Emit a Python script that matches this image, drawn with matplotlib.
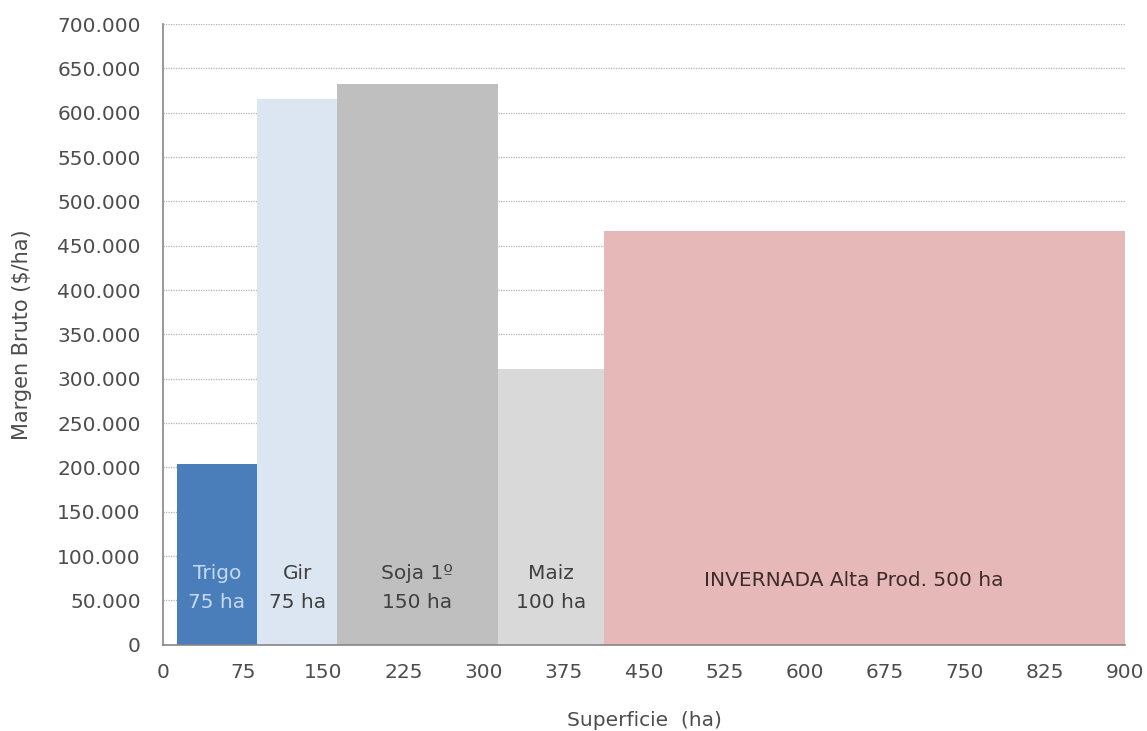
import matplotlib.pyplot as plt
from matplotlib.ticker import FuncFormatter

plt.rcParams['font.family'] = ['DejaVu Sans']

# data
cultivos = ['Trigo\n75 ha', 'Gir\n75 ha', 'Soja 1º\n150 ha', 'Maiz\n100 ha', 'INVERNADA Alta Prod. 500 ha']
superficie = [75, 75, 150, 100, 500]
margen = [204000, 615000, 632000, 311000, 467000]
colores = ['#4a7ebb', '#dce6f2', '#bfbfbf', '#d9d9d9', '#e6b9b8']
color_txt = ['#c6d9f1', '#404040', '#404040', '#404040', '#3f2b2b']
inicio = 13

fig = plt.figure(figsize=(11.47, 7.31), dpi=100)
ax = fig.add_axes([0.142, 0.118, 0.839, 0.849])

x = inicio
for i in range(len(cultivos)):
    w = superficie[i]
    ax.bar(x, margen[i], width=w, align='edge', color=colores[i], zorder=2)
    xc = x + w / 2
    yc = 64000
    if i == len(cultivos) - 1:
        xc = (x + 900) / 2 - 10
        yc = 72000
    ax.text(xc, yc, cultivos[i], ha='center', va='center', fontsize=14.5,
            color=color_txt[i], linespacing=1.65, zorder=3)
    x += w

ax.set_xlim(0, 900)
ax.set_ylim(0, 700000)
ax.set_xticks(range(0, 901, 75))
ax.set_yticks(range(0, 700001, 50000))
ax.yaxis.set_major_formatter(FuncFormatter(lambda v, p: '0' if v == 0 else '{:,.0f}'.format(v).replace(',', '.')))
ax.grid(axis='y', linestyle=(0, (1, 1)), color='#b3b3b3', linewidth=0.9, zorder=0)
ax.tick_params(axis='y', labelsize=14.5, labelcolor='#4d4d4d', length=0, pad=16)
ax.tick_params(axis='x', labelsize=14.5, labelcolor='#4d4d4d', length=0, pad=13)
for s in ['top', 'right']:
    ax.spines[s].set_visible(False)
for s in ['left', 'bottom']:
    ax.spines[s].set_color('#868686')
    ax.spines[s].set_linewidth(1.2)

ax.set_xlabel('Superficie  (ha)', fontsize=14.5, color='#4d4d4d', labelpad=21)
ax.set_ylabel('Margen Bruto ($/ha)', fontsize=15, color='#4d4d4d', labelpad=18)

plt.savefig('out.png', dpi=100)
